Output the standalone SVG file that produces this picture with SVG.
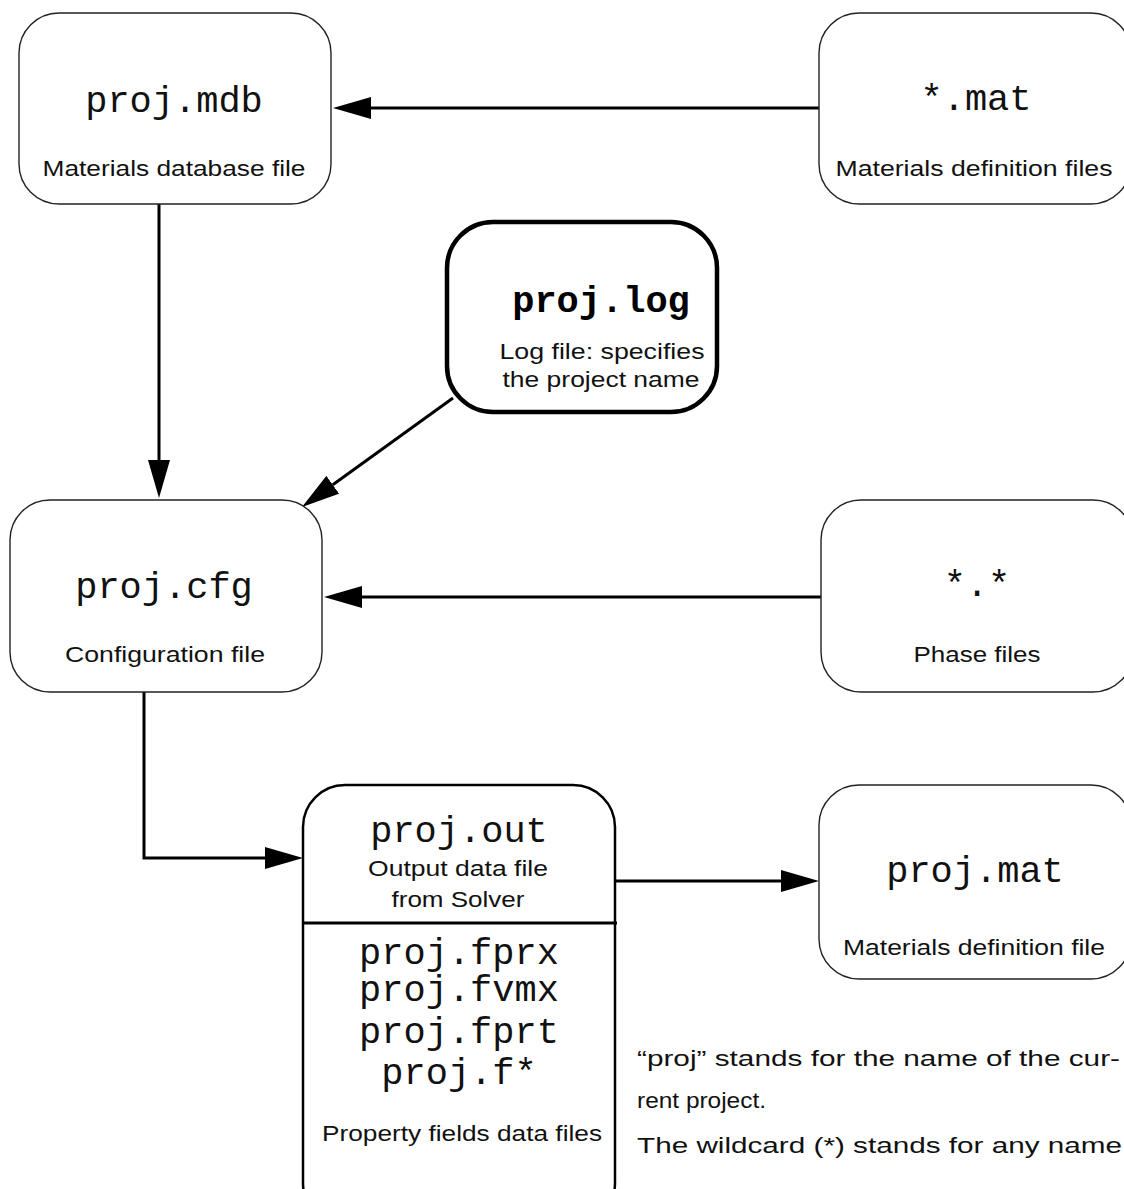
<svg xmlns="http://www.w3.org/2000/svg" width="1124" height="1189" viewBox="0 0 1124 1189">
<style>
.box{fill:#fff;stroke:#222;stroke-width:1.4}
.thick{fill:#fff;stroke:#000;stroke-width:4.5}
.med{fill:#fff;stroke:#000;stroke-width:2.5}
.mono{font-family:"Liberation Mono","Courier New",monospace;font-size:37px;fill:#111;text-anchor:middle}
.monob{font-family:"Liberation Mono","Courier New",monospace;font-size:37px;font-weight:bold;fill:#000;text-anchor:middle}
.sans{font-family:"Liberation Sans",Arial,Helvetica,sans-serif;font-size:22px;fill:#111;text-anchor:middle}
.note{font-family:"Liberation Sans",Arial,Helvetica,sans-serif;font-size:22px;fill:#111}
.conn{fill:none;stroke:#000;stroke-width:3}
</style>
<defs>
<marker id="ah" viewBox="0 0 38 22" refX="0" refY="11" markerWidth="38" markerHeight="22" markerUnits="userSpaceOnUse" orient="auto">
<path d="M0,0 L38,11 L0,22 z" fill="#000"/>
</marker>
</defs>
<rect width="1124" height="1189" fill="#fff"/>

<g id="connectors">
<line class="conn" x1="819" y1="108" x2="371" y2="108" marker-end="url(#ah)"/>
<line class="conn" x1="159" y1="204" x2="159" y2="460" marker-end="url(#ah)"/>
<line class="conn" x1="453" y1="398" x2="332.8" y2="484.8" stroke-width="2" marker-end="url(#ah)"/>
<line class="conn" x1="821" y1="597" x2="362" y2="597" marker-end="url(#ah)"/>
<polyline class="conn" points="144,692 144,858 265,858" marker-end="url(#ah)"/>
<line class="conn" x1="615" y1="881" x2="781" y2="881" marker-end="url(#ah)"/>
</g>

<g id="node-mdb">
<rect class="box" x="19" y="13" width="312" height="191" rx="40" ry="40"/>
<text class="mono" x="174" y="112">proj.mdb</text>
<text class="sans" x="174" y="176" textLength="263" lengthAdjust="spacingAndGlyphs">Materials database file</text>
</g>

<g id="node-mat-files">
<rect class="box" x="819" y="13" width="312" height="191" rx="40" ry="40"/>
<text class="mono" x="976" y="110">*.mat</text>
<text class="sans" x="974" y="176" textLength="277" lengthAdjust="spacingAndGlyphs">Materials definition files</text>
</g>

<g id="node-log">
<rect class="thick" x="447" y="222" width="270" height="190" rx="46" ry="46"/>
<text class="monob" x="601" y="312">proj.log</text>
<text class="sans" x="602" y="359" textLength="205" lengthAdjust="spacingAndGlyphs">Log file: specifies</text>
<text class="sans" x="601" y="387" textLength="197" lengthAdjust="spacingAndGlyphs">the project name</text>
</g>

<g id="node-cfg">
<rect class="box" x="10" y="500" width="312" height="192" rx="40" ry="40"/>
<text class="mono" x="164" y="598">proj.cfg</text>
<text class="sans" x="165" y="662" textLength="200" lengthAdjust="spacingAndGlyphs">Configuration file</text>
</g>

<g id="node-phase">
<rect class="box" x="821" y="500" width="312" height="192" rx="40" ry="40"/>
<text class="mono" x="977" y="596">*.*</text>
<text class="sans" x="977" y="662" textLength="127" lengthAdjust="spacingAndGlyphs">Phase files</text>
</g>

<g id="node-out">
<rect class="med" x="303" y="785" width="312" height="440" rx="42" ry="42"/>
<line x1="303" y1="923" x2="617" y2="923" stroke="#000" stroke-width="3"/>
<text class="mono" x="459" y="842">proj.out</text>
<text class="sans" x="458" y="876" textLength="180" lengthAdjust="spacingAndGlyphs">Output data file</text>
<text class="sans" x="458" y="907" textLength="133" lengthAdjust="spacingAndGlyphs">from Solver</text>
<text class="mono" x="459" y="964">proj.fprx</text>
<text class="mono" x="459" y="1001">proj.fvmx</text>
<text class="mono" x="459" y="1043">proj.fprt</text>
<text class="mono" x="459" y="1084">proj.f*</text>
<text class="sans" x="462" y="1141" textLength="280" lengthAdjust="spacingAndGlyphs">Property fields data files</text>
</g>

<g id="node-mat">
<rect class="box" x="819" y="785" width="312" height="194" rx="40" ry="40"/>
<text class="mono" x="975" y="882">proj.mat</text>
<text class="sans" x="974" y="955" textLength="262" lengthAdjust="spacingAndGlyphs">Materials definition file</text>
</g>

<g id="note">
<text class="note" x="637" y="1066" textLength="483" lengthAdjust="spacingAndGlyphs">“proj” stands for the name of the cur-</text>
<text class="note" x="637" y="1108" textLength="129" lengthAdjust="spacingAndGlyphs">rent project.</text>
<text class="note" x="637" y="1153" textLength="485" lengthAdjust="spacingAndGlyphs">The wildcard (*) stands for any name</text>
</g>
</svg>
